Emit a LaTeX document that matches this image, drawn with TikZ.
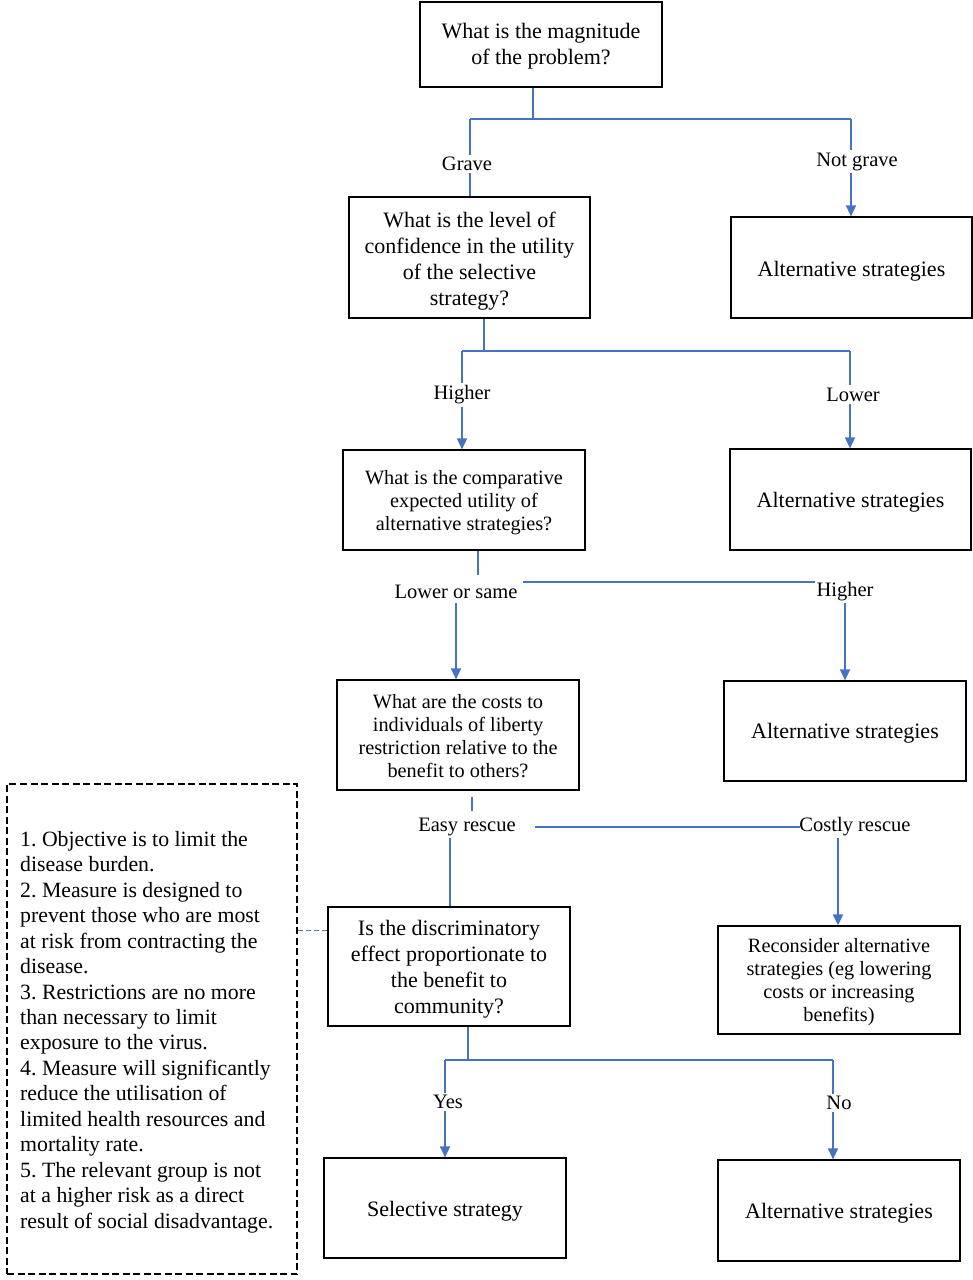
\documentclass[tikz,border=0pt]{standalone}
\usepackage{fontspec}
\setmainfont{Liberation Serif}
\usetikzlibrary{arrows.meta}
\definecolor{lineblue}{HTML}{4472C4}
\frenchspacing
\begin{document}
\begin{tikzpicture}[x=1pt,y=-1pt,
  box/.style={draw=black,line width=1.2pt,inner sep=0pt},
  btxt/.style={align=center,inner sep=0pt,font=\fontsize{22}{26}\selectfont},
  stxt/.style={btxt,font=\fontsize{20.3}{23}\selectfont},
  lbl/.style={inner sep=2pt,font=\fontsize{20.5}{24}\selectfont},
  conn/.style={draw=lineblue,line width=1.5pt},
  arr/.style={conn,-{Triangle[width=10pt,length=11pt]}},
  thickarr/.style={draw=lineblue,line width=2.4pt,-{Triangle[width=10pt,length=11pt]}},
  note/.style={draw=black,line width=1.1pt,dash pattern=on 7pt off 3.5pt}]
\useasboundingbox (0,0) rectangle (973,1280);

% boxes
\node[box,minimum width=242pt,minimum height=85pt] (top) at (541,44.5) {};
\node[box,minimum width=241pt,minimum height=121pt] (conf) at (469.5,257.5) {};
\node[box,minimum width=241pt,minimum height=101pt] (alt1) at (851.5,267.5) {};
\node[box,minimum width=242pt,minimum height=100pt] (comp) at (464,500) {};
\node[box,minimum width=241pt,minimum height=101pt] (alt2) at (850.5,499.5) {};
\node[box,minimum width=242pt,minimum height=110pt] (costs) at (458,735) {};
\node[box,minimum width=242pt,minimum height=100pt] (alt3) at (845,731) {};
\node[box,minimum width=242pt,minimum height=119pt] (disc) at (449,966.5) {};
\node[box,minimum width=242pt,minimum height=108pt] (recon) at (839,980) {};
\node[box,minimum width=242pt,minimum height=100pt] (sel) at (445,1208) {};
\node[box,minimum width=242pt,minimum height=101pt] (alt4) at (839,1210.5) {};

% box texts
\node[btxt] (topT) at ([yshift=-1.5pt]top.center) {What is the magnitude\\of the problem?};
\node[btxt] (confT) at ([yshift=-3.5pt]conf.center) {What is the level of\\confidence in the utility\\of the selective\\strategy?};
\node[btxt] (alt1T) at ([yshift=-3.5pt]alt1.center) {Alternative strategies};
\node[stxt] (compT) at ([yshift=-3pt]comp.center) {What is the comparative\\expected utility of\\alternative strategies?};
\node[btxt] (alt2T) at ([yshift=-3pt]alt2.center) {Alternative strategies};
\node[stxt] (costsT) at ([yshift=-1.5pt]costs.center) {What are the costs to\\individuals of liberty\\restriction relative to the\\benefit to others?};
\node[btxt] (alt3T) at ([yshift=-2.5pt]alt3.center) {Alternative strategies};
\node[btxt] (discT) at ([yshift=-2.5pt]disc.center) {Is the discriminatory\\effect proportionate to\\the benefit to\\community?};
\node[stxt] (reconT) at ([yshift=-2pt]recon.center) {Reconsider alternative\\strategies (eg lowering\\costs or increasing\\benefits)};
\node[btxt] (selT) at ([yshift=-3pt]sel.center) {Selective strategy};
\node[btxt] (alt4T) at ([yshift=-3pt]alt4.center) {Alternative strategies};

% note box
\node[note,minimum width=290pt,minimum height=490pt,inner sep=0pt] (notebox) at (152,1029) {};
\node[anchor=west,align=left,inner sep=0pt,font=\fontsize{21.8}{25.47}\selectfont] (notetext) at (20,1032) {1. Objective is to limit the\\disease burden.\\2. Measure is designed to\\prevent those who are most\\at risk from contracting the\\disease.\\3. Restrictions are no more\\than necessary to limit\\exposure to the virus.\\4. Measure will significantly\\reduce the utilisation of\\limited health resources and\\mortality rate.\\5. The relevant group is not\\at a higher risk as a direct\\result of social disadvantage.};

% labels
\node[lbl] (grave) at (467,164) {Grave};
\node[lbl] (notgrave) at (857,161.5) {Not grave};
\node[lbl] (higherA) at (462,395) {Higher};
\node[lbl] (lowerA) at (853,394.5) {Lower};
\node[lbl] (lowsame) at (456,592) {Lower or same};
\node[lbl] (higherB) at (845,592) {Higher};
\node[lbl] (easy) at (467,826.5) {Easy rescue};
\node[lbl] (costly) at (855,826.5) {Costly rescue};
\node[lbl] (yes) at (448,1101.5) {Yes};
\node[lbl] (no) at (839,1102.5) {No};

% level 1
\coordinate (a0) at (533,119);
\coordinate (aL) at (470,119);
\coordinate (aR) at (851,119);
\draw[conn] (top.south -| a0) -- (a0);
\draw[conn] (aL) -- (aR);
\draw[conn] (aL) -- (aL |- grave.north);
\draw[conn] (aL |- grave.south) -- (aL |- conf.north);
\draw[conn] (aR) -- (aR |- notgrave.north);
\draw[arr] (aR |- notgrave.south) -- (aR |- alt1.north);

% level 2
\coordinate (b0) at (484,351);
\coordinate (bL) at (462,351);
\coordinate (bR) at (850,351);
\draw[conn] (conf.south -| b0) -- (b0);
\draw[conn] (bL) -- (bR);
\draw[conn] (bL) -- (bL |- higherA.north);
\draw[arr] (bL |- higherA.south) -- (bL |- comp.north);
\draw[conn] (bR) -- (bR |- lowerA.north);
\draw[arr] (bR |- lowerA.south) -- (bR |- alt2.north);

% level 3
\coordinate (c0) at (478,575);
\coordinate (c1) at (523,582);
\coordinate (c2) at (815,582);
\coordinate (cL) at (456,603);
\coordinate (cR) at (845,603);
\draw[conn] (comp.south -| c0) -- (c0);
\draw[conn] (c1) -- (c2);
\draw[arr] (cL) -- (cL |- costs.north);
\draw[arr] (cR) -- (cR |- alt3.north);

% level 4
\coordinate (d0) at (472,797);
\coordinate (d0b) at (472,811);
\coordinate (d1) at (535,827);
\coordinate (d2) at (800,827);
\coordinate (dL) at (450,838);
\coordinate (dR) at (838,838);
\draw[conn] (d0) -- (d0b);
\draw[conn] (d1) -- (d2);
\draw[conn] (dL) -- (dL |- disc.north);
\draw[thickarr] (dR) -- (dR |- recon.north);

% level 5
\coordinate (e0) at (468,1060);
\coordinate (eL) at (445,1060);
\coordinate (eR) at (833,1060);
\draw[conn] (disc.south -| e0) -- (e0);
\draw[conn] (eL) -- (eR);
\draw[conn] (eL) -- (eL |- yes.north);
\draw[arr] (eL |- yes.south) -- (eL |- sel.north);
\draw[conn] (eR) -- (eR |- no.north);
\draw[arr] (eR |- no.south) -- (eR |- alt4.north);

% dashed link
\coordinate (f0) at (0,930);
\draw[draw=lineblue,line width=1pt,dash pattern=on 5pt off 3pt] (notebox.east |- f0) -- (disc.west |- f0);
\end{tikzpicture}
\end{document}
